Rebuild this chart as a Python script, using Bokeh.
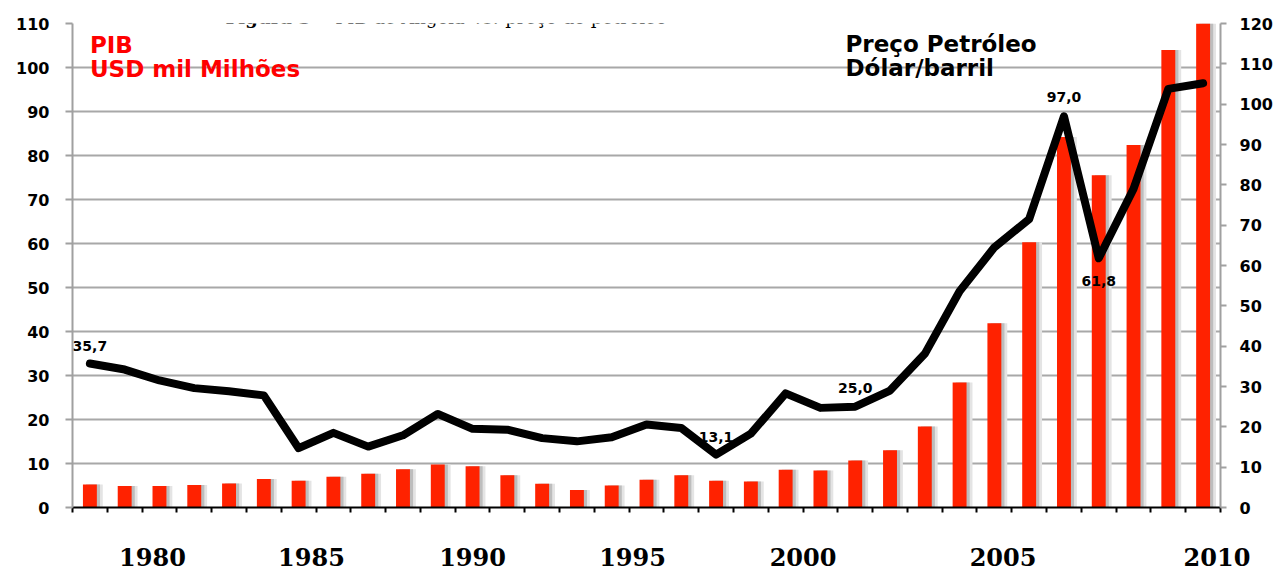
from bokeh.plotting import figure
from bokeh.models import Range1d, LinearAxis, FixedTicker, Label, ColumnDataSource
from bokeh.transform import dodge
from bokeh.core.properties import value
from bokeh.embed import file_html
from bokeh.resources import INLINE

# ---------------- data ----------------
years = list(range(1980, 2013))
pib = [5.2, 4.9, 4.9, 5.1, 5.45, 6.5, 6.1, 7.0, 7.65, 8.7,
       9.8, 9.4, 7.35, 5.4, 4.0, 5.0, 6.3, 7.35, 6.1, 5.9,
       8.6, 8.4, 10.7, 13.0, 18.4, 28.4, 41.9, 60.3, 84.2, 75.5,
       82.4, 104.0, 115.0]
petroleo = [35.7, 34.2, 31.5, 29.6, 28.8, 27.8, 14.7, 18.5, 15.1, 17.9,
            23.2, 19.5, 19.3, 17.2, 16.4, 17.4, 20.6, 19.7, 13.1, 18.3,
            28.3, 24.7, 25.0, 29.0, 38.1, 53.6, 64.5, 71.5, 97.0, 61.8,
            79.0, 103.8, 105.2]
ann_years = [1980, 1998, 2002, 2008, 2009]
ann_text = ["35,7", "13,1", "25,0", "97,0", "61,8"]
xtick_labels = ["1980", "1985", "1990", "1995", "2000", "2005", "2010"]
xtick_pos = [1981.8, 1986.37, 1991.0, 1995.6, 2000.5, 2006.25, 2012.4]
left_ticks = list(range(0, 111, 10))
right_ticks = list(range(0, 121, 10))
caption_parts = ["Figura 3", "– PIB de Angola", "vs.", "preço do petróleo"]

# ---------------- figure ----------------
p = figure(width=1282, height=572, x_range=Range1d(1979.5, 2012.5),
           y_range=Range1d(0, 110), output_backend="svg", toolbar_location=None,
           min_border_left=72, min_border_right=62, min_border_top=23,
           min_border_bottom=65)
p.extra_y_ranges = {"right": Range1d(0, 120)}
p.outline_line_color = None
p.background_fill_color = "white"
p.border_fill_color = "white"

p.xgrid.grid_line_color = None
p.ygrid.grid_line_color = "#a8a8a8"
p.ygrid.grid_line_width = 2

# left axis
ya = p.yaxis[0]
ya.ticker = FixedTicker(ticks=left_ticks)
ya.axis_line_color = "#a0a0a0"
ya.axis_line_width = 2
ya.major_tick_line_color = "#a0a0a0"
ya.major_tick_line_width = 2
ya.major_tick_out = 7
ya.major_tick_in = 0
ya.minor_tick_line_color = None
ya.major_label_standoff = 16
ya.major_label_text_font = "DejaVu Sans"
ya.major_label_text_font_style = "bold"
ya.major_label_text_font_size = "16px"
ya.major_label_text_color = "black"

# right axis
ra = LinearAxis(y_range_name="right", ticker=FixedTicker(ticks=right_ticks))
ra.axis_line_color = "#a0a0a0"
ra.axis_line_width = 2
ra.major_tick_line_color = "#a0a0a0"
ra.major_tick_line_width = 2
ra.major_tick_out = 6
ra.major_tick_in = 0
ra.minor_tick_line_color = None
ra.major_label_standoff = 13
ra.major_label_text_font = "DejaVu Sans"
ra.major_label_text_font_style = "bold"
ra.major_label_text_font_size = "16px"
ra.major_label_text_color = "black"
p.add_layout(ra, "right")

# bottom axis
xa = p.xaxis[0]
boundaries = [1979.5 + k for k in range(len(years) + 1)]
xa.ticker = FixedTicker(ticks=xtick_pos, minor_ticks=boundaries)
xa.major_label_overrides = {pos: lab for pos, lab in zip(xtick_pos, xtick_labels)}
xa.axis_line_color = "black"
xa.axis_line_width = 2
xa.major_tick_line_color = None
xa.major_tick_out = 0
xa.major_tick_in = 0
xa.minor_tick_line_color = "black"
xa.minor_tick_line_width = 2
xa.minor_tick_out = 5
xa.minor_tick_in = 0
xa.major_label_standoff = 35
xa.major_label_text_font = "DejaVu Serif"
xa.major_label_text_font_style = "bold"
xa.major_label_text_font_size = "24px"
xa.major_label_text_color = "black"

src = ColumnDataSource(dict(x=years, pib=pib, petroleo=petroleo))

# bar shadows
p.vbar(x=dodge("x", 0.17, range=p.x_range), top="pib", width=0.4, source=src,
       fill_color="#e4e4e4", line_color=None)
p.vbar(x=dodge("x", 0.09, range=p.x_range), top="pib", width=0.4, source=src,
       fill_color="#bdbdbd", line_color=None)
# bars
p.vbar(x="x", top="pib", width=0.4, source=src, fill_color="#ff2200", line_color=None)

# oil price line
p.line(x="x", y="petroleo", source=src, y_range_name="right", line_width=8,
       line_color="black", line_join="round", line_cap="round")

# data labels
ann_vals = [petroleo[years.index(yv)] for yv in ann_years]
ann_off = [-18, -18, -19, -19, 23]
asrc = ColumnDataSource(dict(x=ann_years, y=ann_vals, t=ann_text, off=ann_off))
p.text(x="x", y="y", text="t", source=asrc, y_range_name="right", y_offset="off",
       text_align="center", text_baseline="middle", text_font=value("DejaVu Sans"),
       text_font_style="bold", text_font_size="14px", text_color="black")

# series titles
for txt, xx, yy, col in [("PIB", 1980.0, 108.0, "#ff0000"),
                         ("USD mil Milhões", 1980.0, 102.6, "#ff0000"),
                         ("Preço Petróleo", 2001.72, 108.2, "black"),
                         ("Dólar/barril", 2001.72, 102.9, "black")]:
    p.add_layout(Label(x=xx, y=yy, text=txt, text_align="left", text_baseline="top",
                       text_font="DejaVu Sans", text_font_style="bold",
                       text_font_size="23px", text_color=col))

# figure caption, in the strip above the plot area
for txt, xx, style in zip(caption_parts, [1983.90, 1986.63, 1991.03, 1991.94],
                          ["bold", "normal", "italic", "normal"]):
    p.add_layout(Label(x=xx, y=111.3, text=txt, text_align="left",
                       text_baseline="alphabetic", text_font="DejaVu Serif",
                       text_font_style=style, text_font_size="18px",
                       text_color="black"))

open("out.html", "w").write(file_html(p, INLINE))
